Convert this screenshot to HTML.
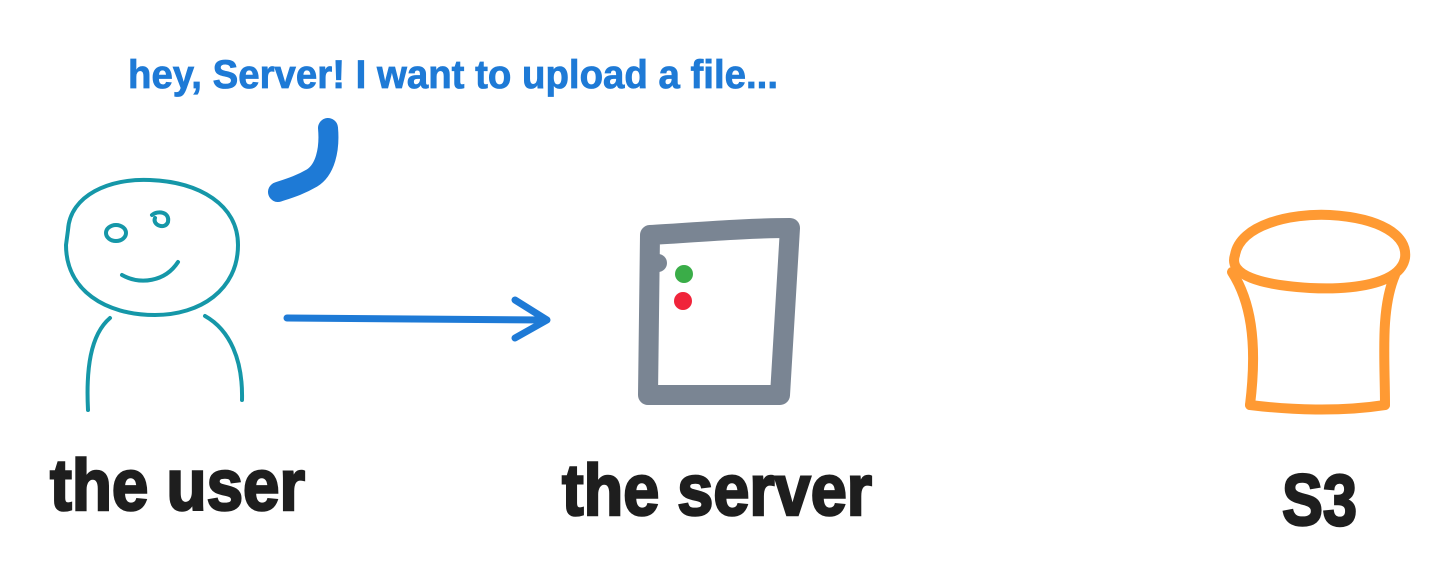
<!DOCTYPE html>
<html><head><meta charset="utf-8"><style>
html,body{margin:0;padding:0;background:#fff;width:1435px;height:581px;overflow:hidden}
</style></head><body>
<svg width="1435" height="581" viewBox="0 0 1435 581" xmlns="http://www.w3.org/2000/svg">
<rect width="1435" height="581" fill="#fff"/>
<text x="128" y="88" font-family="Liberation Sans, sans-serif" font-weight="bold" font-size="40" fill="#1e7ad6" stroke="#1e7ad6" stroke-width="0.8" textLength="650" lengthAdjust="spacingAndGlyphs">hey, Server! I want to upload a file...</text>
<path d="M328 128 C330 150 325 170 312 178 C300 185 290 188 278 192" stroke="#1e7ad6" stroke-width="20" fill="none" stroke-linecap="round"/>
<g stroke="#1597a8" stroke-width="4" fill="none" stroke-linecap="round">
<path d="M68 230 C70 195 110 178 150 180 C200 182 238 205 238 245 C238 290 200 315 155 315 C105 315 66 290 66 245 Z"/>
<ellipse cx="116" cy="233" rx="10" ry="8"/>
<path d="M152 215 C158 210 170 212 168 222 C165 230 152 225 155 218"/>
<path d="M122 275 C140 285 165 282 178 262"/>
<path d="M110 318 C90 335 86 370 88 410"/>
<path d="M205 316 C230 330 243 360 242 400"/>
</g>
<path d="M287 318 L545 320" stroke="#1e7ad6" stroke-width="7" stroke-linecap="round"/>
<path d="M515 300 L547 320 L515 338" stroke="#1e7ad6" stroke-width="7" fill="none" stroke-linecap="round" stroke-linejoin="round"/>
<path d="M650 235 C700 232 750 228 790 228 L780 395 L648 395 Z" fill="none" stroke="#7a8593" stroke-width="20" stroke-linejoin="round"/>
<circle cx="658" cy="263" r="9" fill="#7a8593"/>
<circle cx="684" cy="274" r="9" fill="#3aad48"/>
<circle cx="683" cy="301" r="9" fill="#f0243a"/>
<g stroke="#ff9a33" stroke-width="10" fill="none" stroke-linecap="round">
<path d="M1235 255 C1240 225 1290 213 1330 215 C1380 218 1408 235 1405 258 C1400 285 1350 290 1310 288 C1260 285 1228 275 1235 255 Z"/>
<path d="M1232 272 C1250 300 1258 340 1250 405"/>
<path d="M1395 275 C1380 310 1385 360 1385 405"/>
<path d="M1250 405 C1290 410 1340 412 1385 405"/>
</g>
<g font-family="Liberation Sans, sans-serif" font-weight="bold" fill="#1e1e1e" stroke="#1e1e1e" stroke-width="2.5" font-size="72">
<text x="50" y="510" textLength="255" lengthAdjust="spacingAndGlyphs">the user</text>
<text x="562" y="515" textLength="310" lengthAdjust="spacingAndGlyphs">the server</text>
<text x="1282" y="525" textLength="75" lengthAdjust="spacingAndGlyphs">S3</text>
</g>
</svg>
</body></html>
